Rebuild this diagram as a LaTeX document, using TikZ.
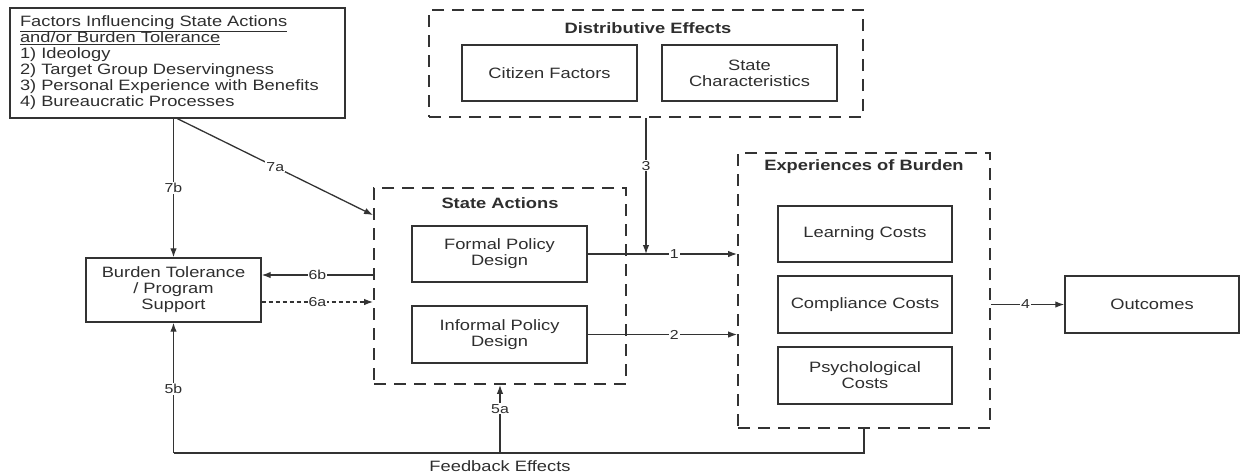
\documentclass[tikz,border=0pt]{standalone}
\usepackage{fontspec}
\setmainfont{Liberation Sans}[FakeStretch=1.22]
\usetikzlibrary{arrows.meta,calc}
\definecolor{ln}{HTML}{333333}
\definecolor{txt}{HTML}{2E2E2E}
\begin{document}
\begin{tikzpicture}[x=1pt,y=-1pt,
  font=\fontsize{15}{16}\selectfont,
  every node/.style={text=txt},
  sbox/.style={draw=ln, line width=1.4pt, align=center, inner sep=0pt},
  dbox/.style={draw=ln, line width=1.8pt, dash pattern=on 12pt off 8pt, inner sep=0pt},
  ttl/.style={font=\fontsize{15}{16}\selectfont\bfseries},
  arr/.style={draw=ln, line width=1.3pt, -{Latex[length=9pt,width=6.5pt]}},
  ln/.style={draw=ln, line width=1.3pt},
  lab/.style={fill=white, inner sep=1pt, font=\fontsize{13}{13}\selectfont},
]
\useasboundingbox (0,0) rectangle (1241,475);

% factors box
\node[sbox, minimum width=335, minimum height=110, text width=315, align=left] (fac) at (177.5,63)
 {\underline{Factors Influencing State Actions}\\\underline{and/or Burden Tolerance}\\1) Ideology\\2) Target Group Deservingness\\3) Personal Experience with Benefits\\4) Bureaucratic Processes};

% distributive effects
\node[dbox, minimum width=434, minimum height=107] (dist) at (646,63.5) {};
\node[ttl] (distt) at (648,28) {Distributive Effects};
\node[sbox, minimum width=175, minimum height=56] (cit) at (549.5,73) {Citizen Factors};
\node[sbox, minimum width=175, minimum height=56] (stc) at (749.5,73) {State\\Characteristics};

% state actions
\node[dbox, minimum width=252, minimum height=196] (sa) at (500,286) {};
\node[ttl] (sat) at (500,203) {State Actions};
\node[sbox, minimum width=175, minimum height=56] (fpd) at (499.5,254) {Formal Policy\\Design};
\node[sbox, minimum width=175, minimum height=57] (ipd) at (499.5,334.5) {Informal Policy\\Design};

% experiences of burden
\node[dbox, minimum width=252, minimum height=275] (exp) at (864,290.5) {};
\node[ttl] (expt) at (864,167) {Experiences of Burden};
\node[sbox, minimum width=174, minimum height=56] (lc) at (865,234) {Learning Costs};
\node[sbox, minimum width=174, minimum height=57] (cc) at (865,304.5) {Compliance Costs};
\node[sbox, minimum width=174, minimum height=57] (pc) at (865,375.5) {Psychological\\Costs};

% outcomes
\node[sbox, minimum width=174, minimum height=57] (out) at (1152,304.5) {Outcomes};

% burden tolerance
\node[sbox, minimum width=175, minimum height=64] (bt) at (173.5,290) {Burden Tolerance\\/ Program\\Support};

% helper coordinates
\path (sa.north west) ++(0,28) coordinate (s7);
\path (bt.east) ++(0,-15) coordinate (b6b);
\path (bt.east) ++(0,12) coordinate (b6a);
\coordinate (j3) at (dist.south |- fpd.east);
\coordinate (fbL) at (bt.south |- 0,453);
\coordinate (fbM) at (sa.south |- 0,453);

% connectors
\draw[arr] (fac.south -| bt.north) -- node[lab, pos=0.5] {7b} (bt.north);
\draw[arr] (fac.south) -- node[lab, pos=0.5] {7a} (s7);
\draw[arr] (sa.west |- b6b) -- node[lab] {6b} (b6b);
\draw[arr, dashed, dash pattern=on 4pt off 3pt] (b6a) -- node[lab] {6a} (sa.west |- b6a);
\draw[arr] (fpd.east) -- node[lab, pos=0.58] {1} (fpd.east -| exp.west);
\draw[arr] (ipd.east) -- node[lab, pos=0.58] {2} (ipd.east -| exp.west);
\draw[arr] (dist.south) -- node[lab, pos=0.35] {3} (j3);
\draw[arr] (exp.east |- out.west) -- node[lab, pos=0.47] {4} (out.west);
\draw[ln] (exp.south) |- (fbL);
\draw[arr] (fbL) -- node[lab, pos=0.49] {5b} (bt.south);
\draw[arr] (fbM) -- node[lab, pos=0.65] {5a} (sa.south);
\node (fbt) at (500,466) {Feedback Effects};
\end{tikzpicture}
\end{document}
